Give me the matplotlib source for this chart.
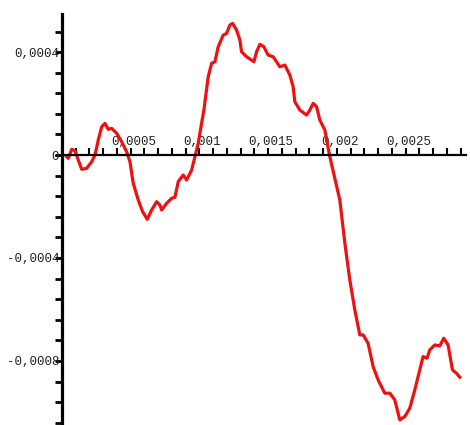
import numpy as np
import matplotlib
matplotlib.use("Agg")
import matplotlib.pyplot as plt
import matplotlib.transforms as mtransforms
from matplotlib.ticker import FixedLocator, FixedFormatter, MultipleLocator

# curve (x and y in units of 1e-4)
x_e4 = [0.342, 0.458, 0.705, 0.945, 1.185, 1.433, 1.796, 2.160, 2.400, 2.640,
	2.887, 3.127, 3.367, 3.615, 3.978, 4.342, 4.705, 4.945, 5.185, 5.549,
	5.869, 6.204, 6.524, 6.887, 7.127, 7.251, 7.615, 7.978, 8.218, 8.458,
	8.822, 9.069, 9.433, 9.673, 9.913, 10.160, 10.327, 10.640, 10.887, 11.127,
	11.367, 11.731, 11.978, 12.218, 12.415, 12.705, 12.945, 13.069, 13.433, 13.796,
	13.964, 14.160, 14.400, 14.691, 15.004, 15.367, 15.855, 16.218, 16.582, 16.822,
	16.945, 17.309, 17.796, 18.036, 18.276, 18.524, 18.764, 19.127, 19.491, 20.218,
	20.582, 20.945, 21.309, 21.673, 21.913, 22.276, 22.640, 23.004, 23.491, 23.855,
	24.218, 24.582, 24.945, 25.309, 25.673, 26.036, 26.276, 26.567, 26.764, 27.127,
	27.491, 27.782, 28.095, 28.415, 28.705, 28.945]
y_e4 = [-0.066, -0.128, 0.221, 0.167, -0.194, -0.555, -0.517, -0.260, 0.0, 0.583,
	1.099, 1.231, 0.998, 1.037, 0.843, 0.517, 0.128, -0.260, -1.099, -1.748,
	-2.202, -2.497, -2.136, -1.814, -1.942, -2.136, -1.876, -1.682, -1.643, -1.037,
	-0.777, -0.971, -0.583, -0.066, 0.454, 1.231, 1.748, 3.041, 3.561, 3.623,
	4.206, 4.660, 4.726, 5.049, 5.115, 4.854, 4.466, 4.012, 3.817, 3.689,
	3.623, 4.012, 4.299, 4.206, 3.883, 3.817, 3.429, 3.495, 3.107, 2.652,
	2.070, 1.748, 1.553, 1.748, 2.008, 1.876, 1.359, 0.971, -0.066, -1.748,
	-3.417, -4.854, -6.019, -6.990, -6.990, -7.313, -8.221, -8.738, -9.254, -9.254,
	-9.515, -10.291, -10.163, -9.837, -9.126, -8.350, -7.833, -7.895, -7.573, -7.379,
	-7.417, -7.118, -7.379, -8.350, -8.478, -8.634]

xticks = [0.0005, 0.001, 0.0015, 0.002, 0.0025]
xtick_labels = ["0,0005", "0,001", "0,0015", "0,002", "0,0025"]
yticks = [-0.0008, -0.0004, 0.0, 0.0004]
ytick_labels = ["-0,0008", "-0,0004", "0", "0,0004"]

x = np.array(x_e4) * 1e-4
y = np.array(y_e4) * 1e-4

plt.rcParams["font.family"] = ["Liberation Mono", "DejaVu Sans Mono"]

fig = plt.figure(figsize=(4.7, 4.25), dpi=100)
ax = fig.add_axes([62/470, 0.0, 404/470, 411/425])

ax.plot(x, y, color="#ee1111", linewidth=2.3, solid_joinstyle="round")

ax.set_xlim(0, 0.00294)
ax.set_ylim(-0.001049, 0.000548)

for s in ["top", "right"]:
	ax.spines[s].set_visible(False)
ax.spines["left"].set_position(("data", 0))
ax.spines["bottom"].set_position(("data", 0))
ax.spines["left"].set_linewidth(2.3)
ax.spines["bottom"].set_linewidth(1.6)

ax.xaxis.set_major_locator(FixedLocator(xticks))
ax.xaxis.set_major_formatter(FixedFormatter(xtick_labels))
ax.xaxis.set_minor_locator(MultipleLocator(0.0001))
ax.yaxis.set_major_locator(FixedLocator(yticks))
ax.yaxis.set_major_formatter(FixedFormatter(ytick_labels))
ax.yaxis.set_minor_locator(MultipleLocator(0.00008))

ax.tick_params(axis="x", which="both", direction="in", length=5, width=1.5, pad=-14,
	labelsize=9, labelcolor="#222222")
ax.tick_params(axis="y", which="both", direction="out", length=5, width=2, pad=-3,
	labelsize=9, labelcolor="#222222")

# x labels sit a little right of their ticks
shift = mtransforms.ScaledTranslation(2/72, 0, fig.dpi_scale_trans)
for lab in ax.get_xticklabels():
	lab.set_transform(lab.get_transform() + shift)

fig.savefig("out.png", dpi=100, facecolor="white")
